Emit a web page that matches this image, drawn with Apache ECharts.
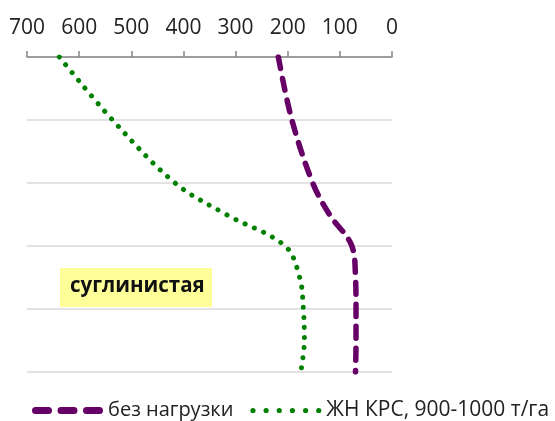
<!DOCTYPE html>
<html>
<head>
<meta charset="utf-8">
<script src="https://cdn.jsdelivr.net/npm/echarts@6/dist/echarts.min.js"></script>
<style>html,body{margin:0;padding:0;background:#fff}#c{width:555px;height:421px}</style>
</head>
<body>
<div id="c"></div>
<script>
var depths = [0, 20, 40, 50, 60, 70, 80, 90, 100];
var seriesNames = ['без нагрузки', 'ЖН КРС, 900-1000 т/га'];
var noLoad = [218, 192, 152, 120, 77, 70, 69, 69, 70];
var manure = [638, 536, 416, 318, 205, 177, 170, 168, 175];
var soilLabel = 'суглинистая';

function pairs(vals) { return vals.map(function (v, i) { return [v, depths[i]]; }); }

// legend icons (71 x 7 box)
function dashIcon() {
  var p = 'path://', xs = [0, 25.5, 51], w = 20, r = 3.5;
  xs.forEach(function (a) {
    p += 'M' + (a + r) + ' 0 L' + (a + w - r) + ' 0 A' + r + ' ' + r + ' 0 0 1 ' + (a + w - r) + ' 7 L' + (a + r) + ' 7 A' + r + ' ' + r + ' 0 0 1 ' + (a + r) + ' 0 Z ';
  });
  return p;
}
function dotIcon() {
  var p = 'path://M0 0 L0.01 0 L0 0.01 Z M70.99 7 L71 7 L71 6.99 Z ', r = 2.6;
  for (var i = 0; i < 6; i++) {
    var cx = 2.6 + i * 13.16;
    p += 'M' + (cx - r) + ' 3.5 A' + r + ' ' + r + ' 0 1 0 ' + (cx + r) + ' 3.5 A' + r + ' ' + r + ' 0 1 0 ' + (cx - r) + ' 3.5 Z ';
  }
  return p;
}

var chart = echarts.init(document.getElementById('c'));
chart.setOption({
  animation: false,
  textStyle: { fontFamily: 'Open Sans' },
  grid: { left: 27, right: 163, top: 57, bottom: 49 },
  xAxis: {
    type: 'value', position: 'top', inverse: true,
    min: 0, max: 700, interval: 100,
    axisLine: { show: true, lineStyle: { color: '#868686', width: 1.5 } },
    axisTick: { show: true, length: 6, lineStyle: { color: '#868686', width: 1.5 } },
    axisLabel: { fontSize: 21, color: '#222', margin: 18 },
    splitLine: { show: false }
  },
  yAxis: {
    type: 'value', inverse: true, min: 0, max: 100, interval: 20,
    axisLine: { show: false }, axisTick: { show: false }, axisLabel: { show: false },
    splitLine: { show: true, lineStyle: { color: '#d9d9d9', width: 1.5 } }
  },
  legend: {
    bottom: 0, left: 32, width: 560, padding: 0, itemWidth: 71, itemHeight: 7, itemGap: 17,
    textStyle: { fontSize: 20, color: '#222', fontFamily: 'Open Sans' },
    data: [
      { name: seriesNames[0], icon: dashIcon() },
      { name: seriesNames[1], icon: dotIcon(), textStyle: { fontSize: 21 } }
    ]
  },
  series: [
    {
      name: seriesNames[0], type: 'line', smooth: 0.35, symbol: 'none',
      data: pairs(noLoad),
      lineStyle: { color: '#660066', width: 5.5, type: [12, 10], cap: 'round' },
      itemStyle: { color: '#660066' }
    },
    {
      name: seriesNames[1], type: 'line', smooth: 0.35, symbol: 'none',
      data: pairs(manure),
      lineStyle: { color: '#008000', width: 5, type: [0.1, 10], cap: 'round' },
      itemStyle: { color: '#008000' }
    }
  ],
  graphic: [{
    type: 'text', left: 60, top: 268,
    style: {
      text: soilLabel, fontSize: 20.5, fontWeight: 'bold', fill: '#111',
      fontFamily: 'Open Sans',
      backgroundColor: '#ffff99', padding: [8, 10, 8, 10], width: 132, height: 23, align: 'center'
    }
  }]
});
</script>
</body>
</html>
